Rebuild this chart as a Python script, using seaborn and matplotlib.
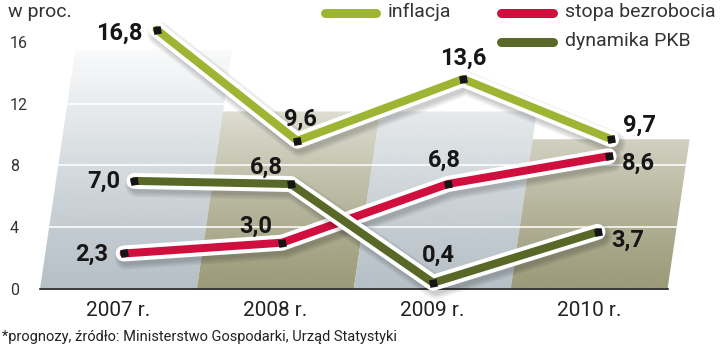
import numpy as np
import pandas as pd
import matplotlib
matplotlib.use("Agg")
import matplotlib.pyplot as plt
import seaborn as sns
from matplotlib import patheffects as pe
from matplotlib.patches import Polygon
from matplotlib.lines import Line2D
from matplotlib.colors import to_rgb

# ---- data -------------------------------------------------------------
years = ["2007 r.", "2008 r.", "2009 r.", "2010 r."]
inflacja = [16.8, 9.6, 13.6, 9.7]
stopa_bezrobocia = [2.3, 3.0, 6.8, 8.6]
dynamika_pkb = [7.0, 6.8, 0.4, 3.7]
series_names = ["inflacja", "stopa bezrobocia", "dynamika PKB"]
y_ticks = [0, 4, 8, 12, 16]
unit_label = "w proc."
footnote = "*prognozy, źródło: Ministerstwo Gospodarki, Urząd Statystyki"

# ---- style ------------------------------------------------------------
PX = 72 / 100                      # one pixel in points at 100 dpi
SHEAR = 0.0145                     # perspective lean of the backdrop (x units per y unit)
FADE = 16.5                        # value at which the backdrop gradient reaches white
palette = {"inflacja": "#9DB533", "stopa bezrobocia": "#D10F3E", "dynamika PKB": "#5A6827"}
band_colors = ["#B6C0C7", "#9B9A78", "#B6C0C7", "#9B9A78"]
band_tops = [15.5, 11.5, 11.5, 9.7]
# label placement: (dx px, dy px to baseline, alignment) for each point
placement = {
    "inflacja": [(-14, -10, "right"), (3, 15, "center"), (0, 14, "center"), (12, 7, "left")],
    "stopa bezrobocia": [(-16, -7, "right"), (-10, 10, "right"), (-3, 17, "center"), (13, -14, "left")],
    "dynamika PKB": [(-14, -7, "right"), (-8, 10, "right"), (5, 21, "center"), (14, -15, "left")],
}

sns.set_style("white")
plt.rcParams["font.family"] = ["Roboto", "DejaVu Sans"]

rows = []
for name, vals in zip(series_names, [inflacja, stopa_bezrobocia, dynamika_pkb]):
    for i, (yr, v) in enumerate(zip(years, vals)):
        rows.append({"series": name, "year": yr, "idx": i, "value": v})
df = pd.DataFrame(rows)
df["pos"] = df["idx"] + SHEAR * df["value"]

fig = plt.figure(figsize=(7.2, 3.48), dpi=100)
ax = fig.add_axes([40 / 720, 59 / 348, 660 / 720, 270.2 / 348])

# ---- leaning gradient bands behind the lines --------------------------
for i, (col, top) in enumerate(zip(band_colors, band_tops)):
    x0, x1 = i - 0.5, i + 0.5
    poly = Polygon([(x0, 0), (x1, 0), (x1 + SHEAR * top, top), (x0 + SHEAR * top, top)],
                   closed=True, fill=False, edgecolor="none")
    ax.add_patch(poly)
    n = 256
    vv = np.linspace(0, top, n)
    rgba = np.zeros((n, 1, 4))
    rgba[..., :3] = to_rgb(col)
    rgba[..., 3] = np.clip(1 - (vv / FADE) ** 1.15, 0, 1)[:, None]
    im = ax.imshow(rgba, extent=[x0, x1 + SHEAR * top, 0, top], origin="lower",
                   aspect="auto", interpolation="bilinear", zorder=0.2)
    im.set_clip_path(poly)

# ---- lines ------------------------------------------------------------
sns.lineplot(data=df, x="pos", y="value", hue="series", hue_order=series_names,
             palette=palette, sort=False, linewidth=8 * PX, legend=False, ax=ax)
shadow = [pe.SimpleLineShadow(offset=(2, -3), shadow_color="black", alpha=0.05,
                              linewidth=w * PX) for w in (24, 21, 18, 15)]
for z, line in zip((3, 4, 5), ax.lines):
    line.set_path_effects(shadow + [
        pe.Stroke(linewidth=16 * PX, foreground="white", capstyle="round", joinstyle="round"),
        pe.Normal()])
    line.set_solid_joinstyle("round")
    line.set_zorder(z)
    line.set_clip_on(False)

sns.scatterplot(data=df, x="pos", y="value", marker=(4, 0, 55), color="#151515",
                s=60, linewidth=0, legend=False, ax=ax, zorder=6, clip_on=False)

for name in series_names:
    sub = df[df["series"] == name]
    for (_, r), (dx, dy, ha) in zip(sub.iterrows(), placement[name]):
        ax.annotate(f"{r['value']:.1f}".replace(".", ","), xy=(r["pos"], r["value"]),
                    xytext=(dx * PX, dy * PX), textcoords="offset points",
                    ha=ha, va="baseline", fontsize=17, fontweight="bold",
                    color="#161616", zorder=7, annotation_clip=False)

# ---- axes -------------------------------------------------------------
ax.set_xlim(-0.5, 3.707)
ax.set_ylim(0, 17.5)
ax.set_xticks(range(len(years)))
ax.set_xticklabels(years)
ax.set_yticks(y_ticks)
ax.set_xlabel("")
ax.set_ylabel("")
ax.yaxis.grid(True, color="white", linewidth=1.1)
ax.xaxis.grid(False)
ax.set_axisbelow(True)
for lbl in ax.get_yticklabels():
    lbl.set_ha("left")
ax.tick_params(axis="y", length=0, pad=30 * PX, labelsize=11.5, labelcolor="#333333")
ax.tick_params(axis="x", length=0, pad=9, labelsize=15, labelcolor="#222222")
for s in ("left", "top", "right"):
    ax.spines[s].set_visible(False)
ax.spines["bottom"].set_color("#111111")
ax.spines["bottom"].set_linewidth(1.6 * PX)
ax.spines["bottom"].set_bounds(-0.5, len(years) - 0.5)
ax.set_facecolor("none")

# ---- legend -----------------------------------------------------------
legend_slots = {"inflacja": (325, 376, 13), "stopa bezrobocia": (501, 553, 13),
                "dynamika PKB": (501, 553, 42)}
for name in series_names:
    xa, xb, yy = legend_slots[name]
    fig.add_artist(Line2D([xa / 720, xb / 720], [1 - yy / 348, 1 - yy / 348],
                          transform=fig.transFigure, color=palette[name],
                          linewidth=9 * PX, solid_capstyle="round"))
    fig.text((xb + 12) / 720, 1 - (yy - 1) / 348, name, ha="left", va="center",
             fontsize=14, color="#333333")

fig.text(8 / 720, 1 - 12 / 348, unit_label, ha="left", va="center", fontsize=14, color="#333333")
fig.text(2 / 720, 1 - 337 / 348, footnote, ha="left", va="center", fontsize=10.5, color="#222222")

fig.savefig("out.png", dpi=100)
